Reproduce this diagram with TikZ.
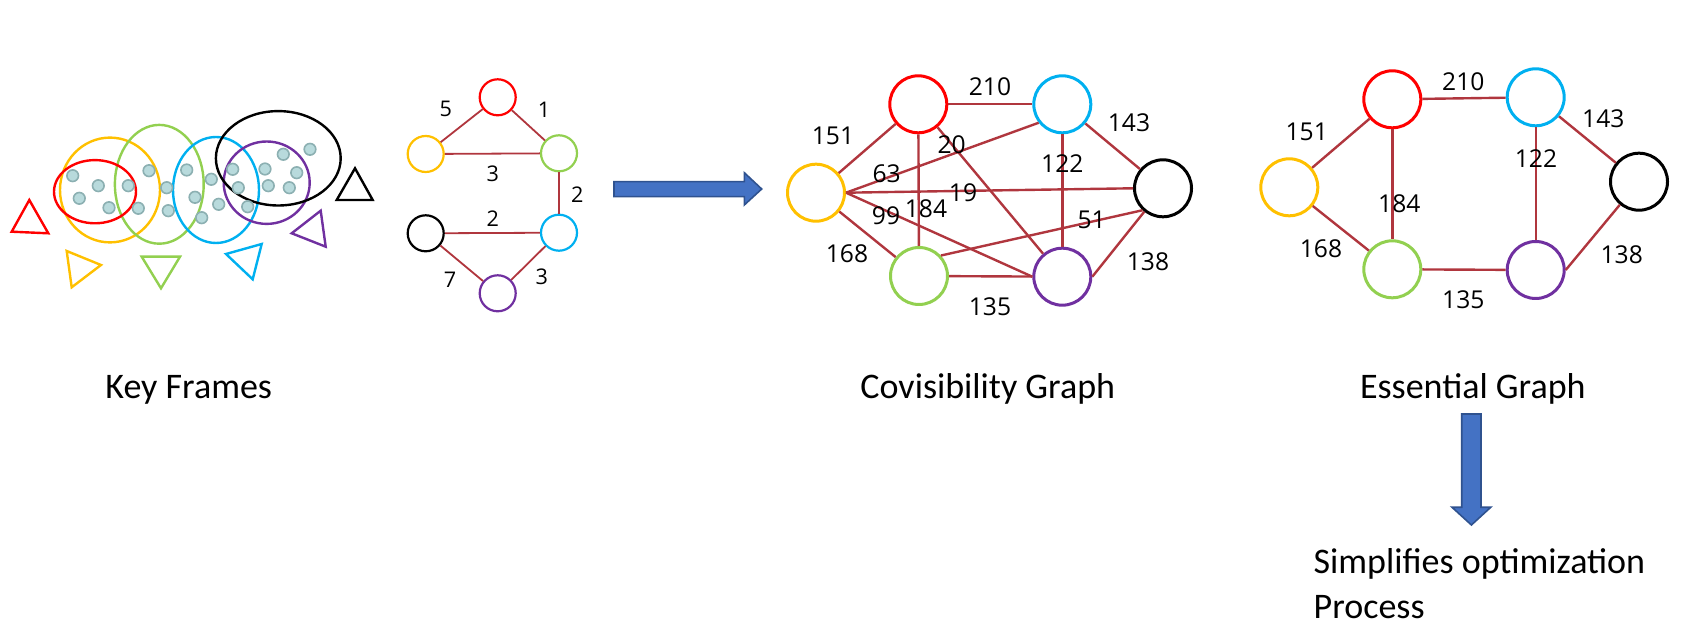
\documentclass[tikz,border=0pt]{standalone}
\usepackage{fontspec}
\setmainfont{Carlito}
\newfontfamily\numfont{Open Sans}
\definecolor{edgecol}{RGB}{176,54,62}
\definecolor{kred}{RGB}{255,0,0}
\definecolor{kyellow}{RGB}{255,192,0}
\definecolor{kgreen}{RGB}{146,208,80}
\definecolor{kblue}{RGB}{0,176,240}
\definecolor{kpurple}{RGB}{112,48,160}
\definecolor{dotfill}{RGB}{184,218,220}
\definecolor{dotline}{RGB}{140,176,178}
\definecolor{arrfill}{RGB}{68,114,196}
\definecolor{arrline}{RGB}{47,82,143}
\begin{document}
\begin{tikzpicture}[x=0.5pt,y=-0.5pt,
  edge/.style={draw=edgecol,line width=1.2pt},
  sedge/.style={draw=edgecol,line width=0.9pt},
  bignode/.style={circle,draw,line width=1.5pt,minimum size=28.5pt,inner sep=0pt},
  smallnode/.style={circle,draw,line width=1.1pt,minimum size=18pt,inner sep=0pt},
  wlab/.style={font=\numfont\fontsize{12.3}{14}\selectfont,inner sep=0pt},
  slab/.style={font=\numfont\fontsize{10.8}{12}\selectfont,inner sep=0pt},
  title/.style={font=\fontsize{18}{22}\selectfont,anchor=base,inner sep=0pt},
  kell/.style={line width=1.2pt},
  ktri/.style={line width=1.2pt,line join=miter},
  kdot/.style={fill=dotfill,draw=dotline,line width=0.8pt},
  bigarrow/.style={fill=arrfill,draw=arrline,line width=0.8pt,line join=miter}
]
\useasboundingbox (0,0) rectangle (1687,641);

% ---------------- Key frames ----------------
\draw[kell,kyellow] (110,190) ellipse [x radius=25pt,y radius=26.2pt];
\draw[kell,kgreen] (159.3,184.3) ellipse [x radius=22.2pt,y radius=29.7pt];
\draw[kell,kblue] (216,190) ellipse [x radius=21.5pt,y radius=26.5pt];
\draw[kell,kred] (95,191.7) ellipse [x radius=20.5pt,y radius=15.8pt];
\draw[kell,kpurple] (266.7,182.7) ellipse [x radius=21.5pt,y radius=20.6pt];
\draw[kell,black] (278.3,158.3) ellipse [x radius=31.2pt,y radius=23.6pt];
\foreach \p in {(72.7,175.7),(98.3,185.7),(79.3,198.3),(109,207.7),(128.3,185.7),
  (138.3,208.3),(149,170.7),(166.7,187.7),(168.3,210.7),(186.7,170),(195,197.3),
  (211.3,179.3),(218.7,204.3),(201.7,217.7),(232.7,169.3),(238.3,187.7),(247.7,206.7),
  (265,169),(268.3,185.7),(283.3,154.3),(296.7,172.7),(289.3,187.7),(310,149.3)}
  \draw[kdot] \p circle [radius=2.9pt];
\draw[ktri,kred] (29.3,200) -- (11.7,231.7) -- (48.3,233.3) -- cycle;
\draw[ktri,kyellow] (66.7,251) -- (101,265) -- (71.7,287.3) -- cycle;
\draw[ktri,kgreen] (141.7,256.7) -- (180,256.7) -- (161,288.3) -- cycle;
\draw[ktri,kblue] (226,254) -- (261.7,244) -- (252.7,279.3) -- cycle;
\draw[ktri,kpurple] (291.7,233.3) -- (320.7,210.7) -- (325.7,246.7) -- cycle;
\draw[ktri,black] (355,168.3) -- (336.7,200) -- (372.7,200) -- cycle;
\node[title] (tkf) at (188.7,398.3) {Key Frames};

% ---------------- Small graph ----------------
\node[smallnode,kred] (sr) at (497.7,97.3) {};
\node[smallnode,kyellow] (sy) at (425.7,154) {};
\node[smallnode,kgreen] (sg) at (559,153.3) {};
\node[smallnode,kblue] (sb) at (559,232.7) {};
\node[smallnode,black] (sk) at (425.7,233.3) {};
\node[smallnode,kpurple] (sp) at (497.7,293.3) {};
\draw[sedge] (sr) -- (sy);
\draw[sedge] (sr) -- (sg);
\draw[sedge] (sy) -- (sg);
\draw[sedge] (sg) -- (sb);
\draw[sedge] (sk) -- (sb);
\draw[sedge] (sk) -- (sp);
\draw[sedge] (sb) -- (sp);
\node[slab] (l5) at (445.7,109.3) {5};
\node[slab] (l1) at (544,110) {1};
\node[slab] (l3a) at (492.7,173.3) {3};
\node[slab] (l2a) at (577.3,195) {2};
\node[slab] (l2b) at (492.7,218.3) {2};
\node[slab] (l7) at (450,280) {7};
\node[slab] (l3b) at (541.7,276.7) {3};

% ---------------- Right arrow ----------------
\draw[bigarrow] (614,181.7) -- (744.3,181.7) -- (744.3,172.7) -- (761.7,189)
  -- (744.3,205) -- (744.3,196.7) -- (614,196.7) -- cycle;

% ---------------- Covisibility graph ----------------
\node[bignode,kred] (cr) at (918.3,104.3) {};
\node[bignode,kblue] (cb) at (1062.3,104.3) {};
\node[bignode,kyellow] (cy) at (816,192.7) {};
\node[bignode,black] (ck) at (1163,188.3) {};
\node[bignode,kgreen] (cg) at (919,276) {};
\node[bignode,kpurple] (cp) at (1062.3,276.7) {};
\draw[edge] (cr) -- (cb);
\draw[edge] (cy) -- (cr);
\draw[edge] (cy.east) -- (cb.218);
\draw[edge] (cy.east) -- (ck.west);
\draw[edge] (cy.east) -- (cp.west);
\draw[edge] (cr) -- (cg);
\draw[edge] (cr) -- (cp);
\draw[edge] (cb) -- (cp);
\draw[edge] (cb) -- (ck);
\draw[edge] (cg.43) -- (ck.227);
\draw[edge] (cp.east) -- (ck);
\draw[edge] (cy) -- (cg);
\draw[edge] (cg) -- (cp);
\node[wlab] (c210) at (990,87) {210};
\node[wlab] (c151) at (833,136) {151};
\node[wlab] (c63) at (886.7,173.3) {63};
\node[wlab] (c19) at (963,193) {19};
\node[wlab] (c99) at (886,216) {99};
\node[wlab] (c184) at (926,209) {184};
\node[wlab] (c20) at (951.7,144.3) {20};
\node[wlab] (c122) at (1062.3,164) {122};
\node[wlab] (c143) at (1129,123) {143};
\node[wlab] (c51) at (1091.7,220) {51};
\node[wlab] (c138) at (1148,261.7) {138};
\node[wlab] (c168) at (847,254) {168};
\node[wlab] (c135) at (990,306.7) {135};
\node[title] (tcg) at (987.8,398.3) {Covisibility Graph};

% ---------------- Essential graph ----------------
\node[bignode,kred] (er) at (1392.3,99.3) {};
\node[bignode,kblue] (eb) at (1535.7,97.3) {};
\node[bignode,kyellow] (ey) at (1289.3,187.3) {};
\node[bignode,black] (ek) at (1639,181.7) {};
\node[bignode,kgreen] (eg) at (1392.3,269.3) {};
\node[bignode,kpurple] (ep) at (1535.7,270) {};
\draw[edge] (er) -- (eb);
\draw[edge] (ey) -- (er);
\draw[edge] (ey) -- (eg);
\draw[edge] (er) -- (eg);
\draw[edge] (eg) -- (ep);
\draw[edge] (eb) -- (ep);
\draw[edge] (eb) -- (ek);
\draw[edge] (ep.east) -- (ek);
\node[wlab] (e210) at (1463.3,81.7) {210};
\node[wlab] (e151) at (1306.7,131.7) {151};
\node[wlab] (e143) at (1603.3,118.3) {143};
\node[wlab] (e122) at (1536,158.3) {122};
\node[wlab] (e184) at (1399.3,203.3) {184};
\node[wlab] (e168) at (1321,248.3) {168};
\node[wlab] (e138) at (1621.7,255) {138};
\node[wlab] (e135) at (1463.3,300) {135};
\node[title] (teg) at (1472.8,398.8) {Essential Graph};

% ---------------- Down arrow ----------------
\draw[bigarrow] (1461.7,414) -- (1481,414) -- (1481,507.3) -- (1490.7,507.3)
  -- (1471.4,525) -- (1452,507.3) -- (1461.7,507.3) -- cycle;
\node[title,anchor=base west] (tso) at (1313.3,574) {Simplifies optimization};
\node[title,anchor=base west] (tpr) at (1313.3,618.3) {Process};
\end{tikzpicture}
\end{document}
